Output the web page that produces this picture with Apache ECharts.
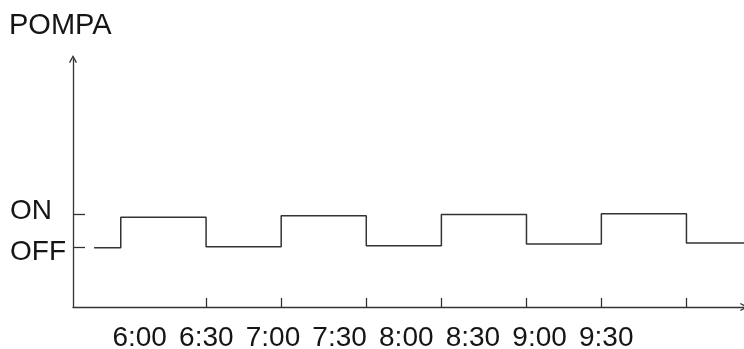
<!DOCTYPE html>
<html>
<head>
<meta charset="utf-8">
<script src="https://cdn.jsdelivr.net/npm/echarts@6/dist/echarts.min.js"></script>
<style>
  html, body { margin: 0; padding: 0; background: #fff; }
  #chart { width: 744px; height: 349px; }
</style>
</head>
<body>
<div id="chart"></div>
<script>
// x is minutes after 5:30, y is pump state (OFF = 0, ON = 1)
const stepTimes = [9.5, 21.5, 59.9, 93.7, 132, 165.8, 204.1, 237.8, 276.1, 302]
const stepStates = [-0.015, 0.90, 0.015, 0.94, 0.045, 0.98, 0.096, 1.0, 0.125, 0.125]
const xTickTimes = [59.9, 93.7, 132, 165.8, 204.1, 237.8, 276.1]
const xLabelTimes = [30, 60, 90, 120, 150, 180, 210, 240]
const xLabelTexts = ['6:00', '6:30', '7:00', '7:30', '8:00', '8:30', '9:00', '9:30']
const yTickValues = [0, 1]
const yLabelValues = [-0.15, 1.09]
const yLabelTexts = ['OFF', 'ON']

const ink = '#333'
const textInk = '#151515'
const font = 'Liberation Sans, Arial, sans-serif'
// thin open chevron used as the axis arrow head
const arrow = 'path://M0,9.2 L5,0 L10,9.2 L8.6,10 L5,3.4 L1.4,10 Z'

const chart = echarts.init(document.getElementById('chart'), null, { renderer: 'canvas' })
chart.setOption({
  animation: false,
  title: {
    text: 'POMPA',
    left: 9,
    top: 11,
    padding: 0,
    textStyle: { fontFamily: font, fontSize: 29, fontWeight: 'normal', color: textInk }
  },
  grid: { left: 73, right: 0, top: 59, bottom: 42, containLabel: false, outerBoundsMode: 'none' },
  xAxis: {
    type: 'value',
    min: 0,
    max: 302,
    splitLine: { show: false },
    axisLine: {
      onZero: false,
      symbol: ['none', arrow],
      symbolSize: [12, 8],
      lineStyle: { color: ink, width: 1.3 }
    },
    axisTick: {
      customValues: xTickTimes,
      inside: true,
      length: 9,
      lineStyle: { color: ink, width: 1.3 }
    },
    axisLabel: {
      customValues: xLabelTimes,
      margin: 31,
      verticalAlign: 'middle',
      fontFamily: font,
      fontSize: 28,
      color: textInk,
      formatter: v => xLabelTexts[xLabelTimes.indexOf(v)]
    }
  },
  yAxis: {
    type: 'value',
    min: -1.785,
    max: 5.627,
    splitLine: { show: false },
    axisLine: {
      onZero: false,
      symbol: ['none', arrow],
      symbolSize: [12, 8],
      lineStyle: { color: ink, width: 1.3 }
    },
    axisTick: {
      customValues: yTickValues,
      inside: true,
      length: 12,
      lineStyle: { color: ink, width: 1.3 }
    },
    axisLabel: {
      customValues: yLabelValues,
      margin: 63,
      align: 'left',
      fontFamily: font,
      fontSize: 28,
      color: textInk,
      formatter: v => yLabelTexts[yLabelValues.indexOf(v)]
    }
  },
  series: [
    {
      name: 'POMPA',
      type: 'line',
      step: 'end',
      symbol: 'none',
      lineStyle: { color: ink, width: 1.5 },
      data: stepTimes.map((t, i) => [t, stepStates[i]])
    }
  ]
})
</script>
</body>
</html>
